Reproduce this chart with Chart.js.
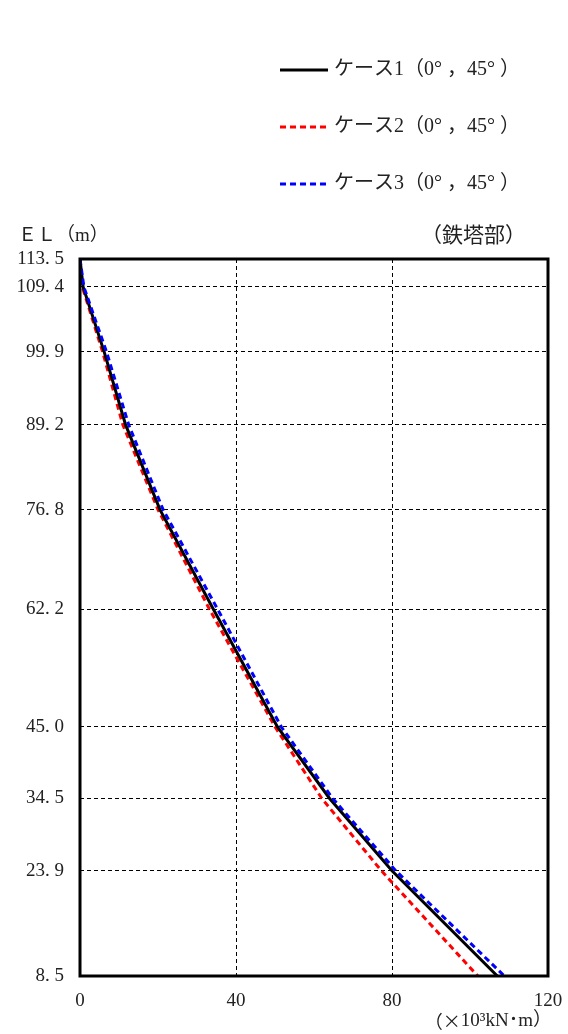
<!DOCTYPE html>
<html>
<head>
<meta charset="utf-8">
<script src="https://cdn.jsdelivr.net/npm/chart.js@4"></script>
<style>
  html, body { margin: 0; padding: 0; background: #fff; }
  #wrap { width: 568px; height: 1034px; }
</style>
</head>
<body>
<div id="wrap"><canvas id="momentChart" width="568" height="1034"></canvas></div>
<script>
// EL (m) levels used as nodes and as y tick labels
const elevations = [113.5, 109.4, 99.9, 89.2, 76.8, 62.2, 45.0, 34.5, 23.9, 8.5];
// bending moment (x10^3 kN·m) at each level
const case1 = [0, 0.8, 6.2, 11.7, 20.5, 34.2, 50.6, 64.0, 80.0, 107.0];
const case2 = [0, 0.6, 5.8, 11.0, 20.0, 33.2, 50.0, 62.0, 77.3, 102.0];
const case3 = [0, 1.0, 6.8, 12.5, 21.3, 35.3, 51.6, 64.8, 81.0, 108.8];
const xTicks = [0, 40, 80, 120];
const seriesNames = ['ケース1（0° ，45° ）', 'ケース2（0° ，45° ）', 'ケース3（0° ，45° ）'];

const FONT = "'Liberation Serif', 'Noto Sans CJK JP', serif";

function toPoints(vals) {
  return vals.map((v, i) => ({ x: v, y: elevations[i] }));
}

// frame, axis captions and the legend block
const extras = {
  id: 'extras',
  afterDraw(chart) {
    const c = chart.ctx;
    const a = chart.chartArea;
    c.save();
    c.strokeStyle = '#000';
    c.lineWidth = 3;
    c.setLineDash([]);
    c.strokeRect(a.left, a.top, a.right - a.left, a.bottom - a.top);

    c.fillStyle = '#222';
    c.textBaseline = 'middle';
    c.font = '19px ' + FONT;
    c.textAlign = 'left';
    c.fillText('ＥＬ（m）', 18, 236);
    c.font = '21px ' + FONT;
    c.textAlign = 'right';
    c.fillText('（鉄塔部）', 526, 236);
    // unit caption: draw "(×" with the CJK font so the sign is full width
    c.font = '19px ' + FONT;
    const tail = '10³kN･m）';
    const tailW = c.measureText(tail).width;
    c.fillText(tail, 552, 1021);
    c.font = "18px 'Noto Sans CJK JP', sans-serif";
    c.fillText('（×', 552 - tailW, 1021);

    // legend
    c.textAlign = 'left';
    chart.data.datasets.forEach((ds, i) => {
      const y = 70 + i * 57;
      c.strokeStyle = ds.borderColor;
      c.lineWidth = 3;
      c.setLineDash(ds.borderDash || []);
      c.beginPath();
      c.moveTo(280, y);
      c.lineTo(328, y);
      c.stroke();
      c.setLineDash([]);
      c.font = '20px ' + FONT;
      c.fillText(ds.label, 334, y);
    });
    c.restore();
  }
};

const ctx = document.getElementById('momentChart').getContext('2d');
const chart = new Chart(ctx, {
  type: 'scatter',
  data: {
    datasets: [{
      label: seriesNames[0],
      data: toPoints(case1),
      borderColor: '#000000',
      borderWidth: 3,
      showLine: true,
      pointRadius: 0,
      order: 2
    }, {
      label: seriesNames[1],
      data: toPoints(case2),
      borderColor: '#ff0000',
      borderWidth: 3,
      borderDash: [6, 4],
      showLine: true,
      pointRadius: 0,
      order: 3
    }, {
      label: seriesNames[2],
      data: toPoints(case3),
      borderColor: '#0000ff',
      borderWidth: 3,
      borderDash: [6, 4],
      showLine: true,
      pointRadius: 0,
      order: 1
    }]
  },
  options: {
    responsive: false,
    animation: false,
    layout: { padding: { top: 259, right: 20, left: 0, bottom: 0 } },
    plugins: {
      legend: { display: false },
      tooltip: { enabled: false }
    },
    scales: {
      x: {
        type: 'linear',
        min: 0,
        max: 120,
        afterBuildTicks: (s) => { s.ticks = xTicks.map(v => ({ value: v })); },
        afterFit: (s) => { s.height = 58; s.paddingLeft = 0; s.paddingRight = 0; },
        grid: {
          color: '#000',
          lineWidth: 1,
          drawTicks: false
        },
        border: { display: false, dash: [4, 3] },
        ticks: {
          color: '#222',
          padding: 14,
          font: { family: FONT, size: 19 },
          maxRotation: 0
        }
      },
      y: {
        type: 'linear',
        min: 8.5,
        max: 113.5,
        afterBuildTicks: (s) => { s.ticks = elevations.map(v => ({ value: v })); },
        afterFit: (s) => { s.width = 80; s.paddingTop = 0; s.paddingBottom = 0; },
        grid: {
          color: '#000',
          lineWidth: 1,
          drawTicks: false
        },
        border: { display: false, dash: [4, 3] },
        ticks: {
          color: '#222',
          padding: 16,
          font: { family: FONT, size: 19 },
          callback: (v) => Number(v).toFixed(1).replace('.', '. ')
        }
      }
    }
  },
  plugins: [extras]
});
</script>
</body>
</html>
